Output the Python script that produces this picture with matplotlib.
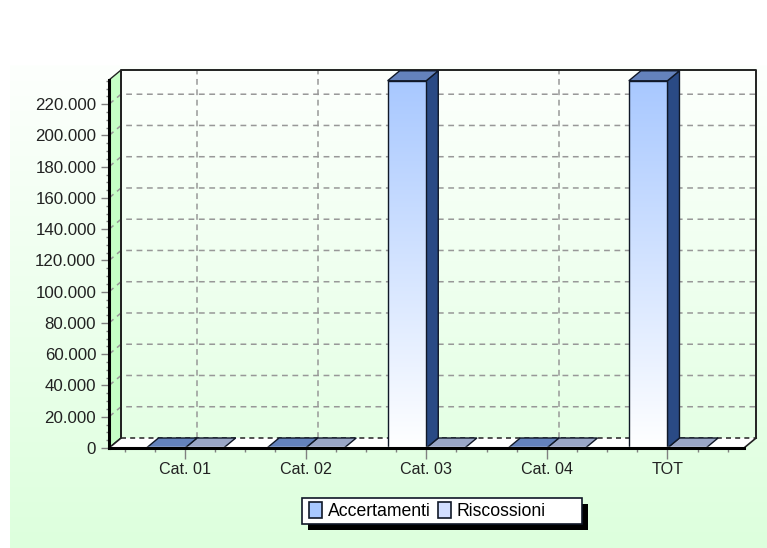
import matplotlib
matplotlib.use("Agg")
import matplotlib.pyplot as plt
import numpy as np
from matplotlib.colors import LinearSegmentedColormap
from matplotlib.patches import Patch, Polygon, Rectangle
from matplotlib.ticker import FuncFormatter, MultipleLocator

plt.rcParams['font.family'] = ['Liberation Sans', 'DejaVu Sans']

categories = ['Cat. 01', 'Cat. 02', 'Cat. 03', 'Cat. 04', 'TOT']
accertamenti = [0, 0, 235000, 0, 235000]
riscossioni = [0, 0, 0, 0, 0]

W, H = 767, 548
# 3d depth of the chart, in data units (about 12 px across, 10 px up)
depth_x = 0.1
depth_y = 6400
bar_w = 0.32
x0, x1 = -0.63, 4.635
y_top = 235500
grid_color = '#989898'
grid_dash = (0, (3.8, 3))


def px_rect(left, top, right, bottom):
    return [left / W, 1 - bottom / H, (right - left) / W, (bottom - top) / H]


def slab(ax, x, w, v, color, z):
    # top of a bar, the only thing visible when the value is 0
    ax.add_patch(Polygon([(x, v), (x + w, v), (x + w + depth_x, v + depth_y), (x + depth_x, v + depth_y)],
                         fc=color, ec='#101828', lw=1, zorder=z, clip_on=False))


def side(ax, x, v, color, z):
    ax.add_patch(Polygon([(x, 0), (x + depth_x, depth_y), (x + depth_x, v + depth_y), (x, v)],
                         fc=color, ec='#101828', lw=1, zorder=z, clip_on=False))


fig = plt.figure(figsize=(W / 100, H / 100), dpi=100, facecolor='white')

# background gradient panel
bg = fig.add_axes(px_rect(10, 65, 767, 548))
bg.axis('off')
green = LinearSegmentedColormap.from_list('bg', ['#FDFFFD', '#DDFFDD'])
bg.imshow(np.linspace(0, 1, 256).reshape(-1, 1), cmap=green, aspect='auto')

ax = fig.add_axes(px_rect(109, 80, 744, 448))
ax.patch.set_alpha(0)
ax.set_xlim(x0, x1)
ax.set_ylim(0, y_top)

xpos = np.arange(len(categories))
yticks = np.arange(0, 220001, 20000)

# left wall
ax.add_patch(Polygon([(x0, 0), (x0 + depth_x, depth_y), (x0 + depth_x, y_top + depth_y), (x0, y_top)],
                     fc='#C6FFC6', ec='#222222', lw=1, zorder=1, clip_on=False))
# back wall grid
for v in yticks[1:]:
    ax.plot([x0, x0 + depth_x, x1 + depth_x], [v, v + depth_y, v + depth_y], color=grid_color, lw=1.1,
            ls=grid_dash, zorder=1.5, clip_on=False)
for p in xpos:
    ax.plot([p + depth_x, p + depth_x], [depth_y, y_top + depth_y], color=grid_color, lw=1.1,
            ls=grid_dash, zorder=1.5, clip_on=False)
# back wall outline
ax.plot([x0 + depth_x, x0 + depth_x, x1 + depth_x, x1 + depth_x], [depth_y, y_top + depth_y, y_top + depth_y, depth_y],
        color='#222222', lw=1.4, zorder=2, clip_on=False)

# floor
ax.add_patch(Polygon([(x0, 0), (x1, 0), (x1 + depth_x, depth_y), (x0 + depth_x, depth_y)],
                     fc='white', ec='none', zorder=2, clip_on=False))
ax.plot([x0 + depth_x, x1 + depth_x], [depth_y, depth_y], color='#333333', lw=1.2, ls=(0, (3, 2.5)), zorder=2.1,
        clip_on=False)
ax.plot([x0, x0 + depth_x], [0, depth_y], color='#222222', lw=1.2, zorder=2.1, clip_on=False)
ax.plot([x1, x1 + depth_x], [0, depth_y], color='#222222', lw=1.2, zorder=2.1, clip_on=False)

# bars
fade = LinearSegmentedColormap.from_list('bar', ['#A8C8FF', '#FFFFFF'])
for p, a, r in zip(xpos, accertamenti, riscossioni):
    slab(ax, p, bar_w, r, '#9AA6C6', 3)
    if a > 0:
        side(ax, p, a, '#2A4A85', 4)
        ax.imshow(np.linspace(0, 1, 256).reshape(-1, 1), cmap=fade, aspect='auto',
                  extent=(p - bar_w, p, 0, a), zorder=4)
        ax.bar(p - bar_w, a, bar_w, align='edge', fc='none', ec='#101828', lw=1, zorder=4.5)
    slab(ax, p - bar_w, bar_w, a, '#6482BC', 4.6)
ax.set_xlim(x0, x1)
ax.set_ylim(0, y_top)
ax.plot([x0, x1], [900, 900], color='white', lw=1, zorder=5)

# axes
for s in ['top', 'right']:
    ax.spines[s].set_visible(False)
for s in ['left', 'bottom']:
    ax.spines[s].set_linewidth(2.2)
    ax.spines[s].set_color('black')
    ax.spines[s].set_zorder(6)

ax.set_xticks(xpos)
ax.set_xticklabels(categories)
ax.xaxis.set_minor_locator(MultipleLocator(0.25))
ax.set_yticks(yticks)
ax.yaxis.set_major_formatter(FuncFormatter(lambda v, pos: f'{int(v):,}'.replace(',', '.')))
ax.yaxis.set_minor_locator(MultipleLocator(5000))
ax.tick_params(axis='x', which='major', length=8, width=1, color='#808080', labelsize=11.6, labelcolor='#222222', pad=2)
ax.tick_params(axis='x', which='minor', length=3, width=1, color='#808080')
ax.tick_params(axis='y', which='major', length=6, width=1, color='#808080', labelsize=12.2, labelcolor='#222222', pad=3.2)
ax.tick_params(axis='y', which='minor', length=2.5, width=1, color='#808080')

# legend box with a hard shadow, a bit wider than its entries
fig.add_artist(Rectangle((308 / W, 1 - 530 / H), 280 / W, 26 / H, transform=fig.transFigure, fc='black', ec='none'))
fig.add_artist(Rectangle((302 / W, 1 - 524 / H), 280 / W, 26 / H, transform=fig.transFigure, fc='white',
                         ec='#101828', lw=1.2))
handles = [Patch(fc='#A8C8FF', ec='#101828', lw=1.2), Patch(fc='#D2DEFF', ec='#101828', lw=1.2)]
leg = fig.legend(handles, ['Accertamenti', 'Riscossioni'], ncol=2, loc='lower left',
                 bbox_to_anchor=(309 / W, 1 - 520 / H), borderaxespad=0, fontsize=12.7, frameon=False,
                 handlelength=0.74, handleheight=1.1, handletextpad=0.34, columnspacing=0.39, borderpad=0)

fig.savefig('out.png', dpi=100)
